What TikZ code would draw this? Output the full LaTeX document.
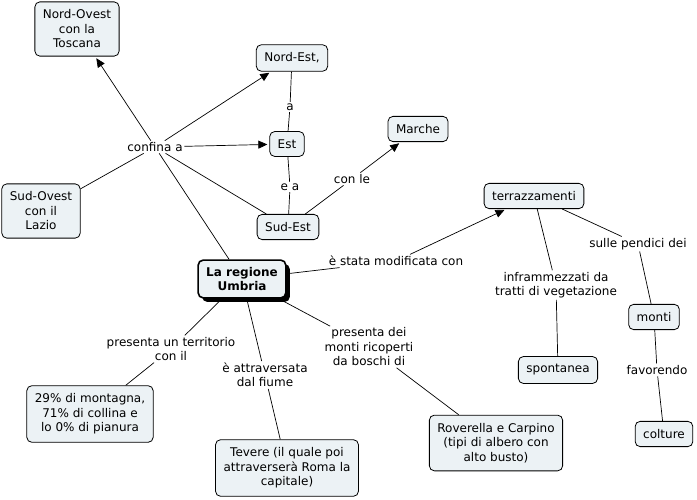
\documentclass[tikz,border=0pt]{standalone}
\usepackage{fontspec}
\setmainfont{DejaVu Sans}
\usetikzlibrary{arrows.meta,shadows}
\definecolor{cfill}{RGB}{236,242,245}
\tikzset{
  concept/.style={draw, rounded corners=5pt, fill=cfill, align=center,
    inner xsep=8pt, inner ysep=8pt, line width=0.8pt,
    font=\fontsize{12}{14.5}\selectfont},
  lab/.style={inner sep=1.5pt, align=center, font=\fontsize{12}{14.5}\selectfont},
  conn/.style={line width=0.7pt},
  arr/.style={line width=0.7pt, -{Triangle[length=9pt,width=8pt]}, shorten >=2pt}
}
\begin{document}
\begin{tikzpicture}[x=1pt,y=-1pt]
\useasboundingbox (0,0) rectangle (697,500);
% concepts
\node[concept] (NO) at (77,29) {Nord-Ovest\\con la\\Toscana};
\node[concept] (NE) at (292,58) {Nord-Est,};
\node[concept] (Est) at (287,144) {Est};
\node[concept] (SO) at (41,211) {Sud-Ovest\\con il\\Lazio};
\node[concept] (SE) at (288,227) {Sud-Est};
\node[concept] (Marche) at (418,129) {Marche};
\node[concept] (terr) at (534,196) {terrazzamenti};
\node[concept, line width=1.6pt, font=\fontsize{12}{14.5}\selectfont\bfseries,
  inner ysep=7pt,
  drop shadow={shadow xshift=4pt, shadow yshift=-4pt, fill=black, opacity=1}]
  (U) at (242,279) {La regione\\Umbria};
\node[concept] (pct) at (90,414) {29\% di montagna,\\71\% di collina e\\lo 0\% di pianura};
\node[concept] (Tev) at (287,468) {Tevere (il quale poi\\attraverserà Roma la\\capitale)};
\node[concept] (Rov) at (496,443) {Roverella e Carpino\\(tipi di albero con\\alto busto)};
\node[concept] (spon) at (558,370) {spontanea};
\node[concept] (monti) at (654,317) {monti};
\node[concept] (colt) at (664,434) {colture};
% linking phrases
\node[lab] (confina) at (155,147) {confina a};
\node[lab] (a) at (290,107) {a};
\node[lab] (ea) at (290,187) {e a};
\node[lab] (conle) at (352,179) {con le};
\node[lab] (stata) at (396,261) {è stata modificata con};
\node[lab] (infr) at (556,285) {inframmezzati da\\tratti di vegetazione};
\node[lab] (sulle) at (638,244) {sulle pendici dei};
\node[lab] (pres1) at (171,349) {presenta un territorio\\con il};
\node[lab] (attr) at (265,375) {è attraversata\\dal fiume};
\node[lab] (pres2) at (369,347) {presenta dei\\monti ricoperti\\da boschi di};
\node[lab] (fav) at (657,370) {favorendo};
% connectors
\draw[conn] (U) -- (confina);
\draw[arr] (confina) -- (NO);
\draw[arr] (confina) -- (NE);
\draw[arr] (confina) -- (Est);
\draw[conn] (confina) -- (SO);
\draw[conn] (confina) -- (SE);
\draw[conn] (NE) -- (a);
\draw[conn] (a) -- (Est);
\draw[conn] (Est) -- (ea);
\draw[conn] (ea) -- (SE);
\draw[conn] (SE) -- (conle);
\draw[arr] (conle) -- (Marche);
\draw[conn] (U) -- (stata);
\draw[arr] (stata) -- (terr);
\draw[conn] (terr) -- (infr);
\draw[conn] (infr) -- (spon);
\draw[conn] (terr) -- (sulle);
\draw[conn] (sulle) -- (monti);
\draw[conn] (monti) -- (fav);
\draw[conn] (fav) -- (colt);
\draw[conn] (U) -- (pres1);
\draw[conn] (pres1) -- (pct);
\draw[conn] (U) -- (attr);
\draw[conn] (attr) -- (Tev);
\draw[conn] (U) -- (pres2);
\draw[conn] (pres2) -- (Rov);
\end{tikzpicture}
\end{document}
